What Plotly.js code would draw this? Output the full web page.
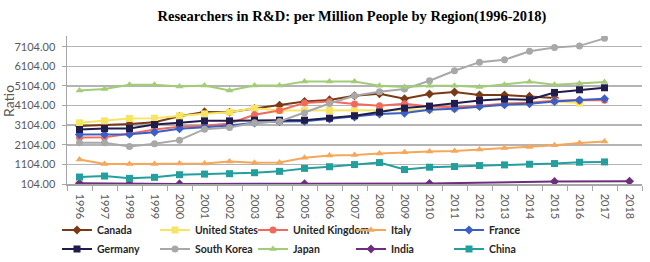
<!DOCTYPE html>
<html>
<head>
<meta charset="utf-8">
<script src="https://cdn.plot.ly/plotly-3.0.1.min.js"></script>
<style>html,body{margin:0;padding:0;background:#fff;}#chart{width:650px;height:262px;}</style>
</head>
<body>
<div id="chart"></div>
<script>
const years = ["1996","1997","1998","1999","2000","2001","2002","2003","2004","2005","2006","2007","2008","2009","2010","2011","2012","2013","2014","2015","2016","2017","2018"];
const yTickVals = [104,1104,2104,3104,4104,5104,6104,7104];
const yTickText = ["104.00","1104.00","2104.00","3104.00","4104.00","5104.00","6104.00","7104.00"];

const canada = [3060,3110,3160,3250,3560,3780,3765,3950,4120,4307,4392,4600,4705,4450,4690,4790,4640,4640,4570,4490,null,null,null];
const unitedStates = [3222,3325,3443,3460,3578,3680,3765,3968,3850,3850,3850,3840,3850,3870,3900,3950,4100,4200,4280,4316,4230,null,null];
const unitedKingdom = [2477,2490,2663,2884,3020,3070,3188,3630,3850,4240,4307,4180,4095,4197,4050,4020,4100,4200,4250,4350,4370,4380,null];
const italy = [1358,1121,1121,1121,1155,1155,1256,1190,1206,1442,1562,1587,1655,1722,1756,1790,1858,1943,1993,2078,2197,2265,null];
const france = [2630,2630,2645,2748,2918,3002,3087,3222,3290,3300,3420,3518,3670,3720,3890,3942,4060,4146,4197,4316,4383,4450,null];
const germany = [2884,2934,2934,3138,3222,3324,3324,3358,3358,3358,3460,3586,3772,3975,4077,4214,4366,4434,4400,4773,4908,5010,null];
const southKorea = [2205,2205,2019,2155,2340,2900,2985,3222,3290,3730,4205,4604,4807,4942,5366,5875,6316,6434,6875,7062,7146,7530,null];
const japan = [4867,4950,5170,5170,5070,5125,4867,5120,5120,5324,5324,5333,5112,5045,5112,5112,5045,5163,5316,5163,5230,5300,null];
const india = [138,null,120,null,110,null,null,null,null,120,null,null,null,null,130,null,null,null,null,231,null,null,248];
const china = [460,510,392,443,578,610,630,680,748,900,985,1095,1197,840,960,994,1045,1078,1112,1146,1214,1230,null];

function tr(name, y, color, symbol, legend) {
  return {
    type: 'scatter', mode: 'lines+markers', name: name, x: years, y: y,
    connectgaps: true,
    line: {color: color, width: 2},
    marker: {color: color, symbol: symbol, size: 7},
    legend: legend
  };
}

const data = [
  tr('Canada', canada, '#7a3a16', 'diamond', 'legend'),
  tr('United States', unitedStates, '#f7e463', 'square', 'legend'),
  tr('United Kingdom', unitedKingdom, '#ef6a5c', 'circle', 'legend'),
  tr('Italy', italy, '#f5a75a', 'triangle-up', 'legend'),
  tr('France', france, '#3b5fc6', 'diamond', 'legend'),
  tr('Germany', germany, '#201c4c', 'square', 'legend2'),
  tr('South Korea', southKorea, '#a8a8a8', 'circle', 'legend2'),
  tr('Japan', japan, '#a3cc78', 'triangle-up', 'legend2'),
  tr('India', india, '#6e2e7e', 'diamond', 'legend2'),
  tr('China', china, '#23a09e', 'square', 'legend2')
];

const legendFont = {family: 'Lato, "Liberation Sans", sans-serif', size: 10.5, color: '#262626', weight: 'bold'};

const layout = {
  width: 650, height: 262,
  margin: {l: 67, r: 8, t: 36, b: 78},
  paper_bgcolor: '#fff', plot_bgcolor: '#fff',
  title: {
    text: 'Researchers in R&D: per Million People by Region(1996-2018)',
    font: {family: '"Liberation Serif", "Times New Roman", serif', size: 14.5, color: '#000', weight: 'bold'},
    x: 352/650, xanchor: 'center', xref: 'container', y: 1 - 16/262, yanchor: 'middle', yref: 'container'
  },
  xaxis: {
    type: 'category', range: [-0.5, 22.5], tickangle: 90,
    tickson: 'boundaries', ticks: 'outside', ticklen: 5, tickcolor: '#a6a6a6',
    showline: true, linecolor: '#a6a6a6', linewidth: 1.5, showgrid: false,
    ticklabelstandoff: 6,
    tickfont: {family: 'Lato, "Liberation Sans", sans-serif', size: 11, color: '#595959'},
    fixedrange: true
  },
  yaxis: {
    range: [104, 7650], tickvals: yTickVals, ticktext: yTickText,
    ticks: 'outside', ticklen: 4, tickcolor: '#a6a6a6',
    showline: true, linecolor: '#a6a6a6', linewidth: 1.5,
    showgrid: true, gridcolor: '#b4b4b4', gridwidth: 1.5, zeroline: false,
    ticklabelstandoff: 4,
    tickfont: {family: 'Lato, "Liberation Sans", sans-serif', size: 11, color: '#595959'},
    fixedrange: true
  },
  annotations: [{
    text: 'Ratio', textangle: -90, showarrow: false,
    xref: 'paper', yref: 'paper', x: (8 - 67) / 575, y: (184 - 101) / 148,
    xanchor: 'center', yanchor: 'middle',
    font: {family: 'Lato, "Liberation Sans", sans-serif', size: 14, color: '#595959'}
  }],
  legend: {
    orientation: 'h', xref: 'container', yref: 'container',
    x: 57/650, xanchor: 'left', y: 1 - 230/262, yanchor: 'middle',
    entrywidth: 53, entrywidthmode: 'pixels', itemwidth: 30,
    font: legendFont, bgcolor: 'rgba(0,0,0,0)', borderwidth: 0, tracegroupgap: 0
  },
  legend2: {
    orientation: 'h', xref: 'container', yref: 'container',
    x: 57/650, xanchor: 'left', y: 1 - 249/262, yanchor: 'middle',
    entrywidth: 53, entrywidthmode: 'pixels', itemwidth: 30,
    font: legendFont, bgcolor: 'rgba(0,0,0,0)', borderwidth: 0, tracegroupgap: 0
  },
  showlegend: true
};

Plotly.newPlot('chart', data, layout, {staticPlot: true, displayModeBar: false});
</script>
</body>
</html>
